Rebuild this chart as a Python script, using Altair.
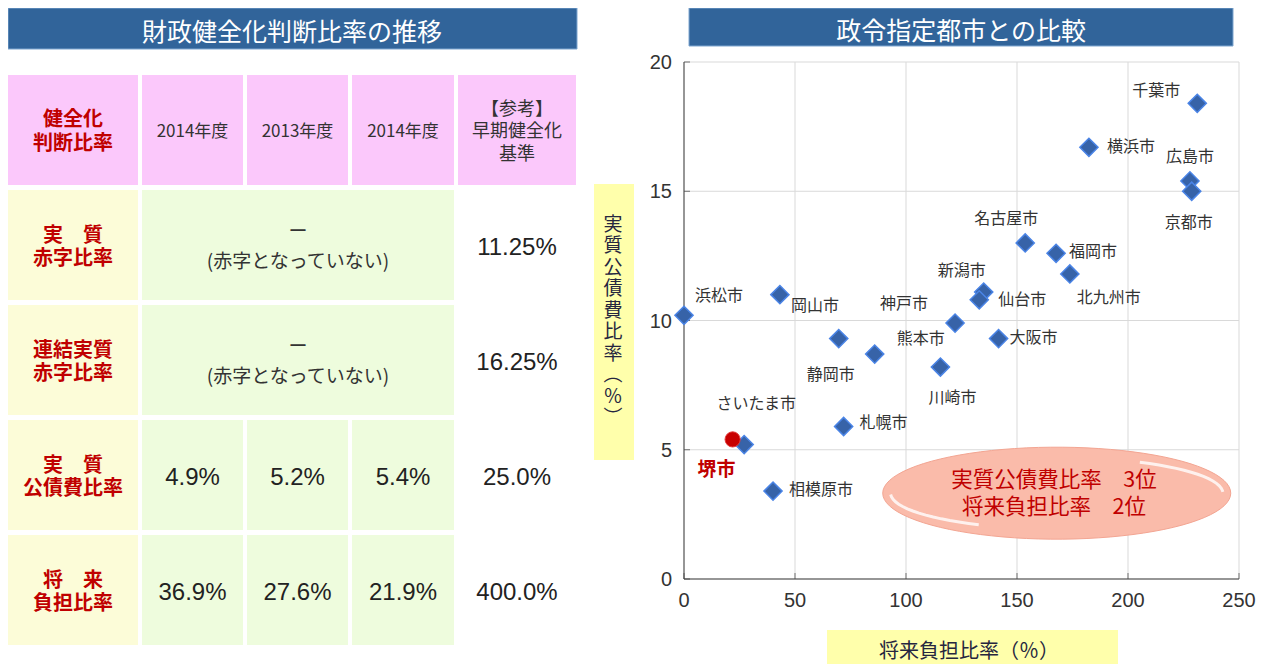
import math
import altair as alt
import pandas as pd

W, H = 1255, 656

# ---------------- data: scatter (FY2014, designated cities) ----------------
CITIES = ["千葉市", "横浜市", "広島市", "京都市", "名古屋市", "福岡市", "北九州市",
          "新潟市", "仙台市", "岡山市", "浜松市", "神戸市", "大阪市", "静岡市",
          "熊本市", "川崎市", "札幌市", "相模原市", "さいたま市"]
FUTURE_BURDEN = [231.2, 182.4, 227.9, 228.7, 153.7, 167.6, 173.8,
                 135.0, 133.0, 43.2, 0.0, 122.1, 141.7, 69.7,
                 85.9, 115.5, 71.9, 40.1, 27.1]
DEBT_SERVICE = [18.4, 16.7, 15.4, 15.0, 13.0, 12.6, 11.8,
                11.1, 10.8, 11.0, 10.2, 9.9, 9.3, 9.3,
                8.7, 8.2, 5.9, 3.4, 5.2]
SAKAI_NAME = ["堺市"]
SAKAI_FUTURE = [21.9]
SAKAI_DEBT = [5.4]

X_TICKS = [0, 50, 100, 150, 200, 250]
Y_TICKS = [0, 5, 10, 15, 20]

# ---------------- data: table ----------------
HEADER = ["健全化\n判断比率", "2014年度", "2013年度", "2014年度", "【参考】\n早期健全化\n基準"]
ROW_LABELS = ["実　質\n赤字比率", "連結実質\n赤字比率", "実　質\n公債費比率", "将　来\n負担比率"]
NO_DEFICIT = "ー\n(赤字となっていない)"
DEBT_RATIO = ["4.9%", "5.2%", "5.4%"]
FUTURE_RATIO = ["36.9%", "27.6%", "21.9%"]
CRITERIA = ["11.25%", "16.25%", "25.0%", "400.0%"]

TITLE_LEFT = "財政健全化判断比率の推移"
TITLE_RIGHT = "政令指定都市との比較"
Y_TITLE = "実質公債費比率︵％︶"
X_TITLE = "将来負担比率（％）"
BADGE = "実質公債費比率　3位\n将来負担比率　2位"

# ---------------- styles / layout ----------------
JP = "Noto Sans CJK JP"
LAT = "Liberation Sans"
RED = "#C00000"
DARK = "#333333"
NAVY = "#26263F"
BLUE = "#31649A"
PINK, YELLOW, GREEN = "#FBC8FB", "#FCFCD8", "#EEFCDD"
BOX_YELLOW = "#FFFFAB"

TABLE_COLS = [(0, 130), (134, 235), (239, 340), (344, 446), (450, 568)]
TABLE_ROWS = [(67, 177), (182, 292), (297, 407), (412, 522), (527, 637)]

PX = alt.Scale(domain=[0, W], range=[0, W], nice=False, zero=False)
PY = alt.Scale(domain=[0, H], range=[0, H], nice=False, zero=False)
SX = alt.Scale(domain=[0, 250], range=[676, 1231], nice=False, zero=False)
SY = alt.Scale(domain=[0, 20], range=[571, 54], nice=False, zero=False)

STYLES = {
    "head_red": dict(font=JP, fontSize=20, fontWeight="bold", color=RED, lineHeight=24),
    "head": dict(font=JP, fontSize=17, color=DARK, lineHeight=20),
    "head_ref": dict(font=JP, fontSize=18, color=DARK, lineHeight=22.5),
    "label": dict(font=JP, fontSize=20, fontWeight="bold", color=RED, lineHeight=23),
    "note": dict(font=JP, fontSize=19, color=DARK, lineHeight=30),
    "num": dict(font=LAT, fontSize=24, color="#222222", lineHeight=26),
    "title": dict(font=JP, fontSize=25, color="white", lineHeight=28),
    "ytitle": dict(font=JP, fontSize=19, color=NAVY, lineHeight=21.5),
    "xtitle": dict(font=JP, fontSize=20, color=NAVY, lineHeight=24),
}

# ---------------- layout group (table, title bars, axis-title boxes) ----------------
cells = []


def cell(r, c0, c1, fill):
    cells.append(dict(x=TABLE_COLS[c0][0], x2=TABLE_COLS[c1][1],
                      y=TABLE_ROWS[r][0], y2=TABLE_ROWS[r][1], fill=fill))


for c in range(5):
    cell(0, c, c, PINK)
for r in range(1, 5):
    cell(r, 0, 0, YELLOW)
cell(1, 1, 3, GREEN)
cell(2, 1, 3, GREEN)
for r in (3, 4):
    for c in (1, 2, 3):
        cell(r, c, c, GREEN)
cells.append(dict(x=586, x2=626, y=176, y2=452, fill=BOX_YELLOW))
cells.append(dict(x=819, x2=1110, y=622, y2=656, fill=BOX_YELLOW))

bars = [dict(x=0, x2=569, y=0, y2=41, fill=BLUE),
        dict(x=681, x2=1225, y=0, y2=38, fill=BLUE)]

texts = []


def add_text(cx, cy, text, style):
    # first line position so that the multi-line block is centred on cy
    n = text.count("\n") + 1
    lh = STYLES[style]["lineHeight"]
    texts.append(dict(x=cx, y=cy - (n - 1) * lh / 2, text=text, style=style))


def ctext(r, c0, c1, text, style, dy=2):
    add_text((TABLE_COLS[c0][0] + TABLE_COLS[c1][1]) / 2,
             (TABLE_ROWS[r][0] + TABLE_ROWS[r][1]) / 2 + dy, text, style)


ctext(0, 0, 0, HEADER[0], "head_red")
for c in (1, 2, 3):
    ctext(0, c, c, HEADER[c], "head")
ctext(0, 4, 4, HEADER[4], "head_ref")
for r in range(1, 5):
    ctext(r, 0, 0, ROW_LABELS[r - 1], "label")
ctext(1, 1, 3, NO_DEFICIT, "note")
ctext(2, 1, 3, NO_DEFICIT, "note")
for i, c in enumerate((1, 2, 3)):
    ctext(3, c, c, DEBT_RATIO[i], "num", 3)
    ctext(4, c, c, FUTURE_RATIO[i], "num", 3)
for r in range(1, 5):
    ctext(r, 4, 4, CRITERIA[r - 1], "num", 3)
add_text(284, 24.5, TITLE_LEFT, "title")
add_text(953, 24, TITLE_RIGHT, "title")
add_text(605, 313.5, "\n".join(list(Y_TITLE)), "ytitle")
add_text(961, 643.5, X_TITLE, "xtitle")


def px_enc(ch):
    return ch.encode(
        x=alt.X("x:Q", scale=PX, axis=None),
        y=alt.Y("y:Q", scale=PY, axis=None),
    )


rect_layer = alt.Chart(pd.DataFrame(cells)).mark_rect().encode(
    x=alt.X("x:Q", scale=PX, axis=None), x2="x2:Q",
    y=alt.Y("y:Q", scale=PY, axis=None), y2="y2:Q",
    color=alt.Color("fill:N", scale=None),
)
bar_layer = alt.Chart(pd.DataFrame(bars)).mark_rect(stroke="#7FA6D0", strokeWidth=1).encode(
    x=alt.X("x:Q", scale=PX, axis=None), x2="x2:Q",
    y=alt.Y("y:Q", scale=PY, axis=None), y2="y2:Q",
    color=alt.Color("fill:N", scale=None),
)
tdf = pd.DataFrame(texts)
text_layers = []
for key, kw in STYLES.items():
    text_layers.append(
        px_enc(alt.Chart(tdf).transform_filter(alt.datum.style == key)
               .mark_text(align="center", baseline="middle", lineBreak="\n", **kw))
        .encode(text="text:N")
    )
layout = alt.layer(rect_layer, bar_layer, *text_layers)

# ---------------- scatter group ----------------
pts = pd.DataFrame({"city": CITIES, "fb": FUTURE_BURDEN, "ds": DEBT_SERVICE})
sakai = pd.DataFrame({"city": SAKAI_NAME, "fb": SAKAI_FUTURE, "ds": SAKAI_DEBT})

GRID = "#D9D9D9"
AXC = "#404040"


def sxy(ch, xf="fb", yf="ds"):
    return ch.encode(x=alt.X(f"{xf}:Q", scale=SX, axis=None),
                     y=alt.Y(f"{yf}:Q", scale=SY, axis=None))


xt = pd.DataFrame({"v": X_TICKS, "lo": 0, "hi": 20, "lab": [str(v) for v in X_TICKS]})
yt = pd.DataFrame({"v": Y_TICKS, "lo": 0, "hi": 250, "lab": [str(v) for v in Y_TICKS]})

grid_v = alt.Chart(xt).mark_rule(color=GRID, strokeWidth=1).encode(
    x=alt.X("v:Q", scale=SX, axis=None),
    y=alt.Y("lo:Q", scale=SY, axis=None), y2="hi:Q")
grid_h = alt.Chart(yt).mark_rule(color=GRID, strokeWidth=1).encode(
    y=alt.Y("v:Q", scale=SY, axis=None),
    x=alt.X("lo:Q", scale=SX, axis=None), x2="hi:Q")

# axis lines, ticks and tick labels (drawn through the scatter scales)
x_domain = alt.Chart(pd.DataFrame({"a": [0], "b": [250], "z": [0]})).mark_rule(
    color=AXC, strokeWidth=1).encode(
    x=alt.X("a:Q", scale=SX, axis=None), x2="b:Q", y=alt.Y("z:Q", scale=SY, axis=None))
y_domain = alt.Chart(pd.DataFrame({"a": [0], "b": [20], "z": [0]})).mark_rule(
    color=AXC, strokeWidth=1).encode(
    y=alt.Y("a:Q", scale=SY, axis=None), y2="b:Q", x=alt.X("z:Q", scale=SX, axis=None))
x_ticks = alt.Chart(xt).mark_tick(orient="vertical", size=6, thickness=1, color=AXC,
                                  yOffset=-3).encode(
    x=alt.X("v:Q", scale=SX, axis=None), y=alt.Y("lo:Q", scale=SY, axis=None))
y_ticks = alt.Chart(yt).mark_tick(orient="horizontal", size=6, thickness=1, color=AXC,
                                  xOffset=3).encode(
    y=alt.Y("v:Q", scale=SY, axis=None), x=alt.X("lo:Q", scale=SX, axis=None))
x_labels = alt.Chart(xt).mark_text(align="center", baseline="middle", dy=22, font=LAT,
                                   fontSize=20, color=DARK).encode(
    x=alt.X("v:Q", scale=SX, axis=None), y=alt.Y("lo:Q", scale=SY, axis=None), text="lab:N")
y_labels = alt.Chart(yt).mark_text(align="right", baseline="middle", dx=-12, dy=1, font=LAT,
                                   fontSize=20, color=DARK).encode(
    y=alt.Y("v:Q", scale=SY, axis=None), x=alt.X("lo:Q", scale=SX, axis=None), text="lab:N")


def ellipse_path(rx, ry, a0, a1, step=4, closed=True):
    angs = list(range(a0, a1 + 1, step))
    if angs[-1] != a1:
        angs.append(a1)
    pts_ = [(rx * math.cos(math.radians(a)), ry * math.sin(math.radians(a))) for a in angs]
    d = "M" + " L".join(f"{x:.4f},{y:.4f}" for x, y in pts_)
    return d + (" Z" if closed else "")


ELL_W = 348
ELL_SIZE = ELL_W ** 2
ell_df = pd.DataFrame({"fb": [167.9], "ds": [3.32]})
ellipse = sxy(alt.Chart(ell_df).mark_point(
    shape=ellipse_path(1.0, 0.2644, 0, 360), size=ELL_SIZE, filled=True,
    fill="#FABBAA", stroke="#F3A592", strokeWidth=1, opacity=1))
gloss1 = sxy(alt.Chart(ell_df).mark_point(
    shape=ellipse_path(0.955, 0.205, 118, 178, closed=False), size=ELL_SIZE, filled=False,
    fill="transparent", stroke="white", strokeWidth=3, opacity=0.8))
gloss2 = sxy(alt.Chart(ell_df).mark_point(
    shape=ellipse_path(0.955, 0.205, 300, 358, closed=False), size=ELL_SIZE, filled=False,
    fill="transparent", stroke="white", strokeWidth=3, opacity=0.8))
badge = sxy(alt.Chart(pd.DataFrame({"fb": [166.7], "ds": [3.25], "t": [BADGE]})).mark_text(
    align="center", baseline="middle", lineBreak="\n", lineHeight=27, dy=-13.5,
    font=JP, fontSize=21.5, color=RED)).encode(text="t:N")

points = sxy(alt.Chart(pts).mark_point(
    shape="diamond", filled=True, size=330, fill="#3763A8", stroke="#4A84E6",
    strokeWidth=1.5, opacity=1))
red_dot = sxy(alt.Chart(sakai).mark_circle(
    size=230, color="#C80000", stroke="#E23A3A", strokeWidth=1, opacity=1))

# label placement (dx, dy, align) for each city
LABEL_POS = {
    "千葉市": (-41, -12, "center"), "横浜市": (18, 0, "left"), "広島市": (0, -24, "center"),
    "京都市": (-3, 32, "center"), "名古屋市": (-19, -24, "center"), "福岡市": (13, -1, "left"),
    "北九州市": (39, 24, "center"), "新潟市": (-22, -21, "center"), "仙台市": (19, 0, "left"),
    "岡山市": (35, 11, "center"), "浜松市": (35, -19, "center"), "神戸市": (-51, -19, "center"),
    "大阪市": (11, -1, "left"), "静岡市": (-8, 36, "center"), "熊本市": (46, -15, "center"),
    "川崎市": (12, 31, "center"), "札幌市": (16, -3, "left"), "相模原市": (16, -1, "left"),
    "さいたま市": (12, -41, "center"),
}
label_layers = []
for name, (dx, dy, al) in LABEL_POS.items():
    label_layers.append(
        sxy(alt.Chart(pts).transform_filter(alt.datum.city == name).mark_text(
            dx=dx, dy=dy, align=al, baseline="middle", font=JP, fontSize=16, color=DARK
        )).encode(text="city:N")
    )
sakai_label = sxy(alt.Chart(sakai).mark_text(
    dx=-16, dy=31, align="center", baseline="middle", font=JP, fontSize=19,
    fontWeight="bold", color=RED)).encode(text="city:N")

scatter = alt.layer(grid_v, grid_h, x_domain, y_domain, x_ticks, y_ticks, x_labels, y_labels,
                    ellipse, gloss1, gloss2, points, red_dot,
                    *label_layers, sakai_label, badge)

chart = alt.layer(layout, scatter).resolve_scale(
    x="independent", y="independent"
).properties(
    width=W, height=H, padding=0,
    autosize=alt.AutoSizeParams(type="none"),
).configure_view(stroke=None)

chart.save("out.html", embed_options={"renderer": "svg", "actions": False})
